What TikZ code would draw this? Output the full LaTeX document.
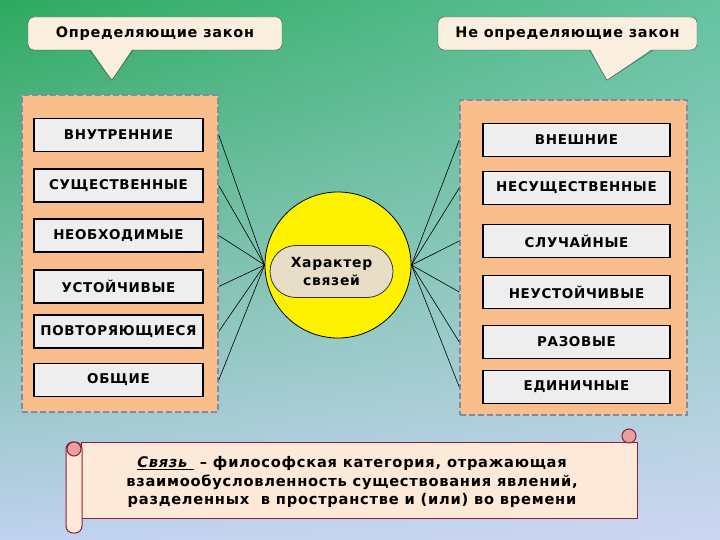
\documentclass[tikz,border=0pt]{standalone}
\usepackage{fontspec}
\setmainfont{DejaVu Sans}
\newfontfamily\spaced[LetterSpace=5]{DejaVu Sans}
\usetikzlibrary{calc}
\usetikzlibrary{shadings}

\definecolor{bg green}{RGB}{45,170,95}
\definecolor{bg teal}{RGB}{100,195,160}
\definecolor{bg blue}{RGB}{192,210,240}
\definecolor{bg lavender}{RGB}{205,214,242}
\definecolor{panel orange}{RGB}{250,190,140}
\definecolor{panel border}{RGB}{128,140,165}
\definecolor{item gray}{RGB}{238,238,238}
\definecolor{head cream}{RGB}{250,238,222}
\definecolor{pill tan}{RGB}{232,222,200}
\definecolor{scroll peach}{RGB}{253,233,215}
\definecolor{scroll red}{RGB}{140,30,60}
\definecolor{curl pink}{RGB}{230,160,160}

\begin{document}
\begin{tikzpicture}[x=1bp, y=-1bp]% character of connections
    \tikzstyle{panel} = [fill=panel orange, draw=panel border, line width=1.5bp, dash pattern=on 6bp off 3bp, inner sep=0pt]
    \tikzstyle{item} = [draw=black, line width=1.6bp, fill=item gray, minimum height=33bp, inner sep=0pt, font=\spaced\bfseries\fontsize{13.5}{15}\selectfont]
    \tikzstyle{head} = [draw=black!75, fill=head cream, rounded corners=6bp, minimum height=33bp, inner sep=0pt, font=\spaced\bfseries\fontsize{14.5}{18}\selectfont]
    \tikzstyle{link} = [black, line width=0.6bp]
    \tikzstyle{scroll} = [draw=scroll red, line width=1bp]
    \useasboundingbox (0, 0) rectangle (720, 540);
    \shade[upper left=bg green, upper right=bg teal, lower left=bg blue, lower right=bg lavender] (0, 0) rectangle (720, 540);
    % callouts
    \node[head, minimum width=254bp] (head left) at (155, 33.5) {Определяющие закон};
    \fill[head cream] ($(head left.south west) + (62, -2)$) -- ($(head left.south west) + (84, 30)$) -- ($(head left.south west) + (105, -2)$) -- cycle;
    \draw[black!75] ($(head left.south west) + (62, 0)$) -- ($(head left.south west) + (84, 30)$) -- ($(head left.south west) + (105, 0)$);
    \node[head, minimum width=259bp] (head right) at (567.5, 33.5) {Не определяющие закон};
    \fill[head cream] ($(head right.south west) + (152, -2)$) -- ($(head right.south west) + (169, 30)$) -- ($(head right.south west) + (215, -2)$) -- cycle;
    \draw[black!75] ($(head right.south west) + (152, 0)$) -- ($(head right.south west) + (169, 30)$) -- ($(head right.south west) + (215, 0)$);
    % panels
    \node[panel, minimum width=196bp, minimum height=317bp] (left panel) at (120, 253.5) {};
    \node[panel, minimum width=227bp, minimum height=315bp] (right panel) at (573.5, 257.5) {};
    \node[item, minimum width=169bp] (left 1) at (118.5, 135) {ВНУТРЕННИЕ};
    \node[item, minimum width=169bp] (left 2) at (118.5, 185.5) {СУЩЕСТВЕННЫЕ};
    \node[item, minimum width=169bp] (left 3) at (118.5, 235.5) {НЕОБХОДИМЫЕ};
    \node[item, minimum width=169bp] (left 4) at (118.5, 286.5) {УСТОЙЧИВЫЕ};
    \node[item, minimum width=169bp] (left 5) at (118.5, 331.5) {ПОВТОРЯЮЩИЕСЯ};
    \node[item, minimum width=169bp] (left 6) at (118.5, 380) {ОБЩИЕ};
    \node[item, minimum width=187bp] (right 1) at (576.5, 140) {ВНЕШНИЕ};
    \node[item, minimum width=187bp] (right 2) at (576.5, 188) {НЕСУЩЕСТВЕННЫЕ};
    \node[item, minimum width=187bp] (right 3) at (576.5, 241) {СЛУЧАЙНЫЕ};
    \node[item, minimum width=187bp] (right 4) at (576.5, 292) {НЕУСТОЙЧИВЫЕ};
    \node[item, minimum width=187bp] (right 5) at (576.5, 342) {РАЗОВЫЕ};
    \node[item, minimum width=187bp] (right 6) at (576.5, 387) {ЕДИНИЧНЫЕ};
    % centre
    \node[circle, draw=black, line width=0.8bp, fill=yellow, minimum size=146bp, inner sep=0pt] (core) at (338, 265) {};
    \node[draw=black!80, line width=0.8bp, fill=pill tan, rounded corners=26bp, minimum width=123bp, minimum height=52bp, align=center, font=\spaced\bfseries\fontsize{14}{19}\selectfont] (label core) at (331.5, 271.5) {Характер\\связей};
    \draw[link] (core.west) -- (left panel.east |- left 1);
    \draw[link] (core.west) -- (left panel.east |- left 2);
    \draw[link] (core.west) -- (left panel.east |- left 3);
    \draw[link] (core.west) -- (left panel.east |- left 4);
    \draw[link] (core.west) -- (left panel.east |- left 5);
    \draw[link] (core.west) -- (left panel.east |- left 6);
    \draw[link] (core.east) -- (right panel.west |- right 1);
    \draw[link] (core.east) -- (right panel.west |- right 2);
    \draw[link] (core.east) -- (right panel.west |- right 3);
    \draw[link] (core.east) -- (right panel.west |- right 4);
    \draw[link] (core.east) -- (right panel.west |- right 5);
    \draw[link] (core.east) -- (right panel.west |- right 6);
    % scroll
    \node[scroll, fill=scroll peach, minimum width=555bp, minimum height=76bp] (scroll body) at (359.5, 480) {};
    \filldraw[scroll, fill=curl pink] (629, 436) circle[radius=7];
    \filldraw[scroll, fill=scroll peach, rounded corners=7bp] (66, 442) rectangle (82, 533);
    \filldraw[scroll, fill=curl pink] (74, 449) circle[radius=7];
    \node[align=center, font=\spaced\bfseries\fontsize{14.7}{19}\selectfont] (definition) at (352, 482) {\underline{\textit{Связь}\ } – философская категория, отражающая\\взаимообусловленность существования явлений,\\разделенных\ \ в пространстве и (или) во времени};
\end{tikzpicture}
\end{document}
